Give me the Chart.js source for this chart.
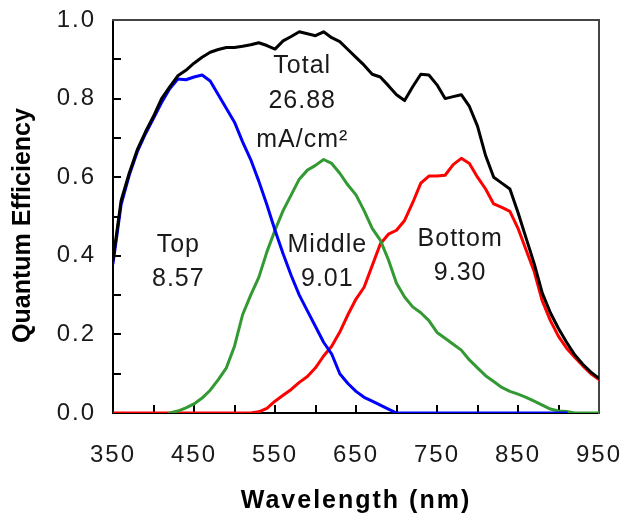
<!DOCTYPE html>
<html><head><meta charset="utf-8">
<script src="https://cdn.jsdelivr.net/npm/chart.js@4.4.0/dist/chart.umd.min.js"></script>
<style>html,body{margin:0;padding:0;background:#fff}#wrap{width:624px;height:520px}</style>
</head><body><div id="wrap"><canvas id="c" width="624" height="520"></canvas></div>
<script>
const wavelengths = [350,360,370,380,390,400,410,420,430,440,450,460,470,480,490,500,510,520,530,540,550,560,570,580,590,600,610,620,630,640,650,660,670,680,690,700,710,720,730,740,750,760,770,780,790,800,810,820,830,840,850,860,870,880,890,900,910,920,930,940,950];
const totalQE = [0.39,0.54,0.61,0.67,0.715,0.755,0.80,0.83,0.858,0.872,0.89,0.905,0.918,0.925,0.93,0.93,0.933,0.937,0.942,0.935,0.926,0.947,0.958,0.97,0.965,0.96,0.97,0.955,0.945,0.925,0.905,0.885,0.862,0.855,0.833,0.81,0.795,0.83,0.862,0.86,0.835,0.80,0.805,0.81,0.78,0.73,0.655,0.60,0.585,0.57,0.51,0.445,0.38,0.305,0.255,0.215,0.18,0.148,0.124,0.104,0.088];
const topQE = [0.38,0.53,0.605,0.665,0.71,0.75,0.79,0.825,0.85,0.848,0.855,0.86,0.845,0.81,0.775,0.74,0.69,0.645,0.59,0.53,0.465,0.405,0.35,0.30,0.26,0.22,0.18,0.15,0.10,0.075,0.055,0.04,0.03,0.02,0.01,0,0,0,0,0,0,0,0,0,0,0,0,0,0,0,0,0,0,0,0,0,0,null,null,null,null];
const middleQE = [null,null,null,null,null,null,null,0,0.005,0.013,0.023,0.038,0.058,0.085,0.115,0.17,0.25,0.30,0.345,0.41,0.465,0.515,0.555,0.595,0.618,0.63,0.645,0.635,0.61,0.58,0.555,0.515,0.47,0.44,0.39,0.33,0.295,0.27,0.255,0.235,0.205,0.19,0.175,0.16,0.135,0.115,0.095,0.08,0.065,0.055,0.048,0.04,0.03,0.02,0.01,0.005,0.004,0,0,0,0];
const bottomQE = [0,0,0,0,0,0,0,0,0,0,0,0,0,0,0,0,0,0,0.003,0.012,0.03,0.045,0.06,0.078,0.093,0.115,0.145,0.17,0.206,0.25,0.29,0.32,0.375,0.43,0.455,0.465,0.49,0.535,0.585,0.603,0.603,0.605,0.632,0.648,0.635,0.60,0.57,0.532,0.523,0.513,0.47,0.415,0.36,0.285,0.235,0.195,0.165,0.142,0.12,0.10,0.085];
const xTickLabels = ['350','450','550','650','750','850','950'];
const yTickLabels = ['0.0','0.2','0.4','0.6','0.8','1.0'];
const cellNames = ['Total','Top','Middle','Bottom'];
const cellCurrents = ['26.88','8.57','9.01','9.30'];
const currentUnit = 'mA/cm²';

const FONT = "'Liberation Sans', Arial, sans-serif";
const TXT = '#1a1a1a';

function pts(arr){ return wavelengths.map((w,i)=>({x:w, y:arr[i]})); }

const labelLayout = [
  {x:583, ys:[0.865,0.777,0.678]},
  {x:430, ys:[0.409,0.322]},
  {x:614, ys:[0.409,0.322]},
  {x:778, ys:[0.426,0.338]}
];

const cellLabels = {
  id:'cellLabels',
  afterDatasetsDraw(chart){
    const {ctx, scales:{x, y}} = chart;
    ctx.save();
    ctx.font = "25px " + FONT;
    ctx.letterSpacing = '1px';
    ctx.fillStyle = TXT;
    ctx.textAlign = 'center';
    ctx.textBaseline = 'alphabetic';
    cellNames.forEach((name, i) => {
      const lay = labelLayout[i];
      const lines = [name, cellCurrents[i]];
      if (i === 0) lines.push(currentUnit);
      const px = x.getPixelForValue(lay.x) + 0.5;
      lines.forEach((t, j) => ctx.fillText(t, px, y.getPixelForValue(lay.ys[j])));
    });
    ctx.restore();
  }
};

const ds = (label, data, color) => ({
  label, data: pts(data), borderColor: color, backgroundColor: color,
  borderWidth: 3, pointRadius: 0, tension: 0, fill: false, spanGaps: false,
  borderJoinStyle: 'round', borderCapStyle: 'round'
});

function noPad(s){ s.paddingLeft = 0; s.paddingRight = 0; s.paddingTop = 0; s.paddingBottom = 0; }

function styleScale(s, labelSpacing, titleSpacing, titleDy){
  const P = Chart.Scale.prototype;
  s.drawLabels = function(ca){
    const c = this.ctx; c.save(); c.letterSpacing = labelSpacing; P.drawLabels.call(this, ca); c.restore();
  };
  s.drawTitle = function(){
    const c = this.ctx; c.save(); c.letterSpacing = titleSpacing; c.translate(0, titleDy); P.drawTitle.call(this); c.restore();
  };
}

new Chart(document.getElementById('c'), {
  type: 'line',
  data: { datasets: [
    ds('Total', totalQE, '#000000'),
    ds('Top', topQE, '#0000ff'),
    ds('Middle', middleQE, '#339933'),
    ds('Bottom', bottomQE, '#ff0000')
  ]},
  options: {
    responsive: false, animation: false,
    layout: { padding: { top: 20, right: 25, left: 0, bottom: 0 } },
    plugins: { legend: { display: false }, tooltip: { enabled: false } },
    scales: {
      x: {
        type: 'linear', position: 'bottom', min: 350, max: 950,
        ticks: {
          stepSize: 50, autoSkip: false, maxRotation: 0, padding: 36, color: TXT,
          font: { family: FONT, size: 24 },
          callback: v => xTickLabels.find(l => +l === v) ?? ''
        },
        grid: { drawOnChartArea: false, drawTicks: true, tickLength: -8, color: '#000', lineWidth: 2 },
        border: { display: true, color: '#000', width: 2 },
        title: { display: true, text: 'Wavelength (nm)', color: '#000',
          font: { family: FONT, size: 25, weight: 'bold' }, padding: { top: 0, bottom: 4 } },
        afterFit(s) { s.height = 107; noPad(s); styleScale(s, '2px', '2px', 0); }
      },
      y: {
        type: 'linear', position: 'left', min: 0, max: 1,
        ticks: {
          stepSize: 0.1, padding: 25, color: TXT,
          font: { family: FONT, size: 24 },
          callback: v => yTickLabels.find(l => Math.abs(+l - v) < 1e-6) ?? ''
        },
        grid: { drawOnChartArea: false, drawTicks: true, tickLength: -8, color: '#000', lineWidth: 2 },
        border: { display: true, color: '#000', width: 2 },
        title: { display: true, text: 'Quantum Efficiency', color: '#000',
          font: { family: FONT, size: 25, weight: 'bold' }, padding: { top: 8, bottom: 0 } },
        afterFit(s) { s.width = 113; noPad(s); styleScale(s, '2px', '0px', 9); }
      },
      x2: {
        type: 'linear', position: 'top', min: 350, max: 950,
        ticks: { display: false },
        grid: { drawOnChartArea: false, drawTicks: false, color: 'rgba(0,0,0,0)' },
        border: { display: true, color: '#444', width: 2 },
        afterFit(s) { s.height = 0; noPad(s); }
      },
      y2: {
        type: 'linear', position: 'right', min: 0, max: 1,
        ticks: { display: false },
        grid: { drawOnChartArea: false, drawTicks: false, color: 'rgba(0,0,0,0)' },
        border: { display: true, color: '#444', width: 2 },
        afterFit(s) { s.width = 0; noPad(s); }
      }
    }
  },
  plugins: [cellLabels]
});
</script>
</body></html>
